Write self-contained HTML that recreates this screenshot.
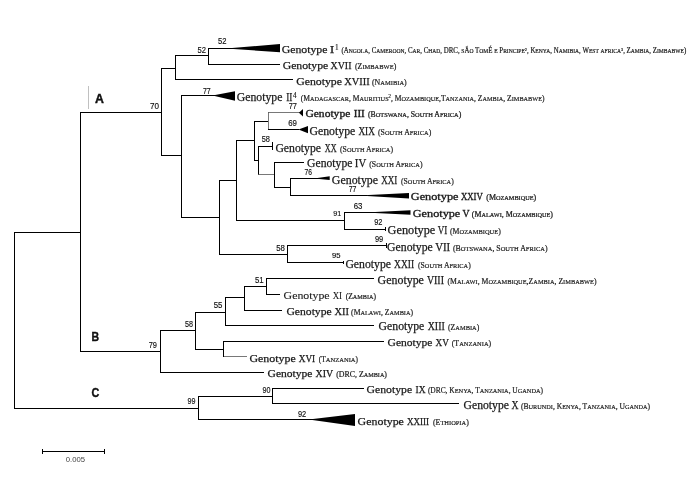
<!DOCTYPE html>
<html lang="en">
<head>
<meta charset="utf-8">
<title>Phylogenetic tree of genotypes</title>
<style>
html,body{margin:0;padding:0;background:#fff;}
body{width:700px;height:500px;overflow:hidden;}
svg{display:block;}
.g{font-family:"Liberation Serif", serif;font-size:11.2px;fill:#1a1a1a;stroke:#1a1a1a;stroke-width:0.25px;}
.p{font-family:"Liberation Serif", serif;font-size:8.5px;fill:#1a1a1a;font-variant:small-caps;stroke:#1a1a1a;stroke-width:0.2px;}
.l{font-size:1.2em;}
.b{font-family:"Liberation Sans", sans-serif;font-size:8.8px;fill:#111;stroke:#111;stroke-width:0.15px;}
.c{font-family:"Liberation Sans", sans-serif;font-size:12.6px;font-weight:bold;fill:#111;stroke:#111;stroke-width:0.4px;}
.s{font-family:"Liberation Sans", sans-serif;font-size:7.4px;fill:#444;}
</style>
</head>
<body>
<svg width="700" height="500" viewBox="0 0 700 500">
<rect x="0" y="0" width="700" height="500" fill="#fff"/>
<g fill="none" stroke-linecap="butt">
<line x1="14.5" y1="232" x2="14.5" y2="409" stroke="#000" stroke-width="1"/>
<line x1="14" y1="232.5" x2="80" y2="232.5" stroke="#000" stroke-width="1"/>
<line x1="14" y1="408.5" x2="198" y2="408.5" stroke="#000" stroke-width="1"/>
<line x1="80.5" y1="112" x2="80.5" y2="352" stroke="#000" stroke-width="1"/>
<line x1="80" y1="112.5" x2="161" y2="112.5" stroke="#000" stroke-width="1"/>
<line x1="80" y1="351.5" x2="160" y2="351.5" stroke="#000" stroke-width="1"/>
<line x1="161.5" y1="68" x2="161.5" y2="156" stroke="#000" stroke-width="1"/>
<line x1="161" y1="68.5" x2="176" y2="68.5" stroke="#000" stroke-width="1"/>
<line x1="175.5" y1="55" x2="175.5" y2="80" stroke="#000" stroke-width="1"/>
<line x1="176" y1="55.5" x2="208" y2="55.5" stroke="#000" stroke-width="1"/>
<line x1="208.5" y1="48" x2="208.5" y2="65" stroke="#000" stroke-width="1"/>
<line x1="208" y1="48.5" x2="234" y2="48.5" stroke="#000" stroke-width="1"/>
<line x1="208" y1="64.5" x2="280" y2="64.5" stroke="#000" stroke-width="1"/>
<line x1="176" y1="79.5" x2="293" y2="79.5" stroke="#000" stroke-width="1"/>
<line x1="161" y1="155.5" x2="182" y2="155.5" stroke="#000" stroke-width="1"/>
<line x1="181.5" y1="95" x2="181.5" y2="218" stroke="#000" stroke-width="1"/>
<line x1="182" y1="95.5" x2="215" y2="95.5" stroke="#000" stroke-width="1"/>
<line x1="182" y1="217.5" x2="220" y2="217.5" stroke="#000" stroke-width="1"/>
<line x1="219.5" y1="180" x2="219.5" y2="255" stroke="#000" stroke-width="1"/>
<line x1="220" y1="180.5" x2="236" y2="180.5" stroke="#000" stroke-width="1"/>
<line x1="236.5" y1="140" x2="236.5" y2="221" stroke="#000" stroke-width="1"/>
<line x1="236" y1="220.5" x2="344" y2="220.5" stroke="#000" stroke-width="1"/>
<line x1="344.5" y1="212" x2="344.5" y2="230" stroke="#000" stroke-width="1"/>
<line x1="344" y1="212.5" x2="376" y2="212.5" stroke="#000" stroke-width="1"/>
<line x1="344" y1="229.5" x2="386" y2="229.5" stroke="#000" stroke-width="1"/>
<line x1="385.5" y1="227" x2="385.5" y2="231" stroke="#000" stroke-width="1"/>
<line x1="236" y1="140.5" x2="254" y2="140.5" stroke="#000" stroke-width="1"/>
<line x1="254.5" y1="121" x2="254.5" y2="161" stroke="#000" stroke-width="1"/>
<line x1="254" y1="121.5" x2="268" y2="121.5" stroke="#000" stroke-width="1"/>
<line x1="268.5" y1="112" x2="268.5" y2="130" stroke="#555" stroke-width="0.8"/>
<line x1="268" y1="112.5" x2="300" y2="112.5" stroke="#555" stroke-width="0.8"/>
<line x1="268" y1="129.5" x2="299" y2="129.5" stroke="#000" stroke-width="1"/>
<line x1="254" y1="160.5" x2="258" y2="160.5" stroke="#000" stroke-width="1"/>
<line x1="258.5" y1="147" x2="258.5" y2="175" stroke="#000" stroke-width="1"/>
<line x1="258" y1="146.5" x2="272" y2="146.5" stroke="#000" stroke-width="1"/>
<line x1="272.5" y1="142" x2="272.5" y2="150" stroke="#000" stroke-width="1"/>
<line x1="258" y1="174.5" x2="274" y2="174.5" stroke="#555" stroke-width="0.8"/>
<line x1="274.5" y1="162" x2="274.5" y2="188" stroke="#000" stroke-width="1"/>
<line x1="274" y1="162.5" x2="304" y2="162.5" stroke="#000" stroke-width="1"/>
<line x1="274" y1="187.5" x2="290" y2="187.5" stroke="#000" stroke-width="1"/>
<line x1="290.5" y1="178" x2="290.5" y2="196" stroke="#000" stroke-width="1"/>
<line x1="290" y1="178.5" x2="319" y2="178.5" stroke="#000" stroke-width="1"/>
<line x1="290" y1="195.5" x2="367" y2="195.5" stroke="#000" stroke-width="1"/>
<line x1="220" y1="254.5" x2="288" y2="254.5" stroke="#000" stroke-width="1"/>
<line x1="287.5" y1="245" x2="287.5" y2="263" stroke="#000" stroke-width="1"/>
<line x1="288" y1="245.5" x2="386" y2="245.5" stroke="#000" stroke-width="1"/>
<line x1="386.5" y1="243" x2="386.5" y2="248" stroke="#000" stroke-width="1"/>
<line x1="288" y1="262.5" x2="343" y2="262.5" stroke="#000" stroke-width="1"/>
<line x1="343.5" y1="261" x2="343.5" y2="264" stroke="#000" stroke-width="1"/>
<line x1="160.5" y1="330" x2="160.5" y2="373" stroke="#000" stroke-width="1"/>
<line x1="160" y1="330.5" x2="196" y2="330.5" stroke="#000" stroke-width="1"/>
<line x1="195.5" y1="312" x2="195.5" y2="350" stroke="#000" stroke-width="1"/>
<line x1="196" y1="312.5" x2="226" y2="312.5" stroke="#000" stroke-width="1"/>
<line x1="225.5" y1="297" x2="225.5" y2="326" stroke="#000" stroke-width="1"/>
<line x1="226" y1="297.5" x2="244" y2="297.5" stroke="#000" stroke-width="1"/>
<line x1="244.5" y1="286" x2="244.5" y2="311" stroke="#000" stroke-width="1"/>
<line x1="244" y1="286.5" x2="266" y2="286.5" stroke="#000" stroke-width="1"/>
<line x1="266.5" y1="278" x2="266.5" y2="295" stroke="#000" stroke-width="1"/>
<line x1="266" y1="278.5" x2="374" y2="278.5" stroke="#000" stroke-width="1"/>
<line x1="266" y1="294.5" x2="280" y2="294.5" stroke="#000" stroke-width="1"/>
<line x1="244" y1="310.5" x2="282" y2="310.5" stroke="#000" stroke-width="1"/>
<line x1="226" y1="325.5" x2="374" y2="325.5" stroke="#000" stroke-width="1"/>
<line x1="196" y1="349.5" x2="224" y2="349.5" stroke="#000" stroke-width="1"/>
<line x1="223.5" y1="341" x2="223.5" y2="357" stroke="#000" stroke-width="1"/>
<line x1="224" y1="341.5" x2="384" y2="341.5" stroke="#000" stroke-width="1"/>
<line x1="224" y1="356.5" x2="247" y2="356.5" stroke="#555" stroke-width="0.8"/>
<line x1="160" y1="372.5" x2="264" y2="372.5" stroke="#000" stroke-width="1"/>
<line x1="198.5" y1="396" x2="198.5" y2="420" stroke="#000" stroke-width="1"/>
<line x1="198" y1="396.5" x2="272" y2="396.5" stroke="#000" stroke-width="1"/>
<line x1="272.5" y1="388" x2="272.5" y2="404" stroke="#000" stroke-width="1"/>
<line x1="272" y1="388.5" x2="364" y2="388.5" stroke="#000" stroke-width="1"/>
<line x1="272" y1="403.5" x2="459" y2="403.5" stroke="#000" stroke-width="1"/>
<line x1="198" y1="419.5" x2="313" y2="419.5" stroke="#000" stroke-width="1"/>
<line x1="88.5" y1="86" x2="88.5" y2="109" stroke="#b0b0b0" stroke-width="0.8"/>
<line x1="42" y1="451.5" x2="104" y2="451.5" stroke="#000" stroke-width="1"/>
<line x1="42.5" y1="449" x2="42.5" y2="454" stroke="#000" stroke-width="1"/>
<line x1="104.5" y1="449" x2="104.5" y2="454" stroke="#000" stroke-width="1"/>
</g>
<g fill="#000" stroke="none">
<polygon points="226,48.5 280,44 280,52.2"/>
<polygon points="212.5,95.5 235,91.2 235,100.8"/>
<polygon points="365,212.5 410.5,210.3 410.5,214.7"/>
<polygon points="298.9,112.7 303,108.9 303,116.4"/>
<polygon points="298.5,129.5 308,126 308,133.2"/>
<polygon points="314,178.5 329.7,176.2 329.7,180.1"/>
<polygon points="358.75,195.5 409,193 409,198.6"/>
<polygon points="308.75,419.5 355,413.9 355,426"/>
</g>
<g>
<text class="g" style="font-size:11.15px" x="281.70" y="52.5" textLength="45.80" lengthAdjust="spacingAndGlyphs">Genotype</text>
<text class="g" style="font-size:11.15px" x="329.80" y="52.5" textLength="4.60" lengthAdjust="spacingAndGlyphs">I</text>
<text class="g" x="335.10" y="50.00" style="font-size:7.2px;stroke-width:0.15px">1</text>
<text class="p" x="341.5" y="52.5" style="font-size:7.4px" textLength="344.75" lengthAdjust="spacingAndGlyphs">(A<tspan class="l">ngola</tspan>, C<tspan class="l">ameroon</tspan>, C<tspan class="l">ar</tspan>, C<tspan class="l">had</tspan>, DRC, <tspan class="l">s</tspan>Ã<tspan class="l">o</tspan> T<tspan class="l">om</tspan>É <tspan class="l">e</tspan> P<tspan class="l">rincipe</tspan><tspan style="font-size:4.6px;baseline-shift:2.5px">2</tspan>, K<tspan class="l">enya</tspan>, N<tspan class="l">amibia</tspan>, W<tspan class="l">est</tspan> <tspan class="l">africa</tspan><tspan style="font-size:4.6px;baseline-shift:2.5px">3</tspan>, Z<tspan class="l">ambia</tspan>, Z<tspan class="l">imbabwe</tspan>)</text>
<text class="g" style="font-size:11.15px" x="282.70" y="68.5" textLength="45.60" lengthAdjust="spacingAndGlyphs">Genotype</text>
<text class="g" style="font-size:11.15px" x="330.60" y="68.5" textLength="20.85" lengthAdjust="spacingAndGlyphs">XVII</text>
<text class="p" x="355" y="68.5" textLength="41.25" lengthAdjust="spacingAndGlyphs">(Z<tspan class="l">imbabwe</tspan>)</text>
<text class="g" style="font-size:11.15px" x="296.20" y="84.5" textLength="45.80" lengthAdjust="spacingAndGlyphs">Genotype</text>
<text class="g" style="font-size:11.15px" x="344.30" y="84.5" textLength="25.40" lengthAdjust="spacingAndGlyphs">XVIII</text>
<text class="p" x="372" y="84.5" textLength="34.75" lengthAdjust="spacingAndGlyphs">(N<tspan class="l">amibia</tspan>)</text>
<text class="g" style="font-size:11.91px" x="236.80" y="100.7" textLength="45.60" lengthAdjust="spacingAndGlyphs">Genotype</text>
<text class="g" style="font-size:11.91px" x="286.20" y="100.7" textLength="6.20" lengthAdjust="spacingAndGlyphs">II</text>
<text class="g" x="293.10" y="98.20" style="font-size:7.2px;stroke-width:0.15px">4</text>
<text class="p" x="300.75" y="100.7" textLength="243.75" lengthAdjust="spacingAndGlyphs">(M<tspan class="l">adagascar</tspan>, M<tspan class="l">auritius</tspan><tspan style="font-size:5.3px;baseline-shift:2.9px">2</tspan>, M<tspan class="l">ozambique</tspan>,T<tspan class="l">anzania</tspan>, Z<tspan class="l">ambia</tspan>, Z<tspan class="l">imbabwe</tspan>)</text>
<text class="g" style="font-size:9.77px;stroke-width:0.33px" x="305.40" y="116.7" textLength="44.90" lengthAdjust="spacingAndGlyphs">Genotype</text>
<text class="g" style="font-size:9.77px;stroke-width:0.33px" x="353.80" y="116.7" textLength="11.00" lengthAdjust="spacingAndGlyphs">III</text>
<text class="p" x="368" y="116.7" style="font-size:7.3px;stroke-width:0.24px" textLength="93.25" lengthAdjust="spacingAndGlyphs">(B<tspan class="l">otswana</tspan>, S<tspan class="l">outh</tspan> A<tspan class="l">frica</tspan>)</text>
<text class="g" style="font-size:11.6px" x="309.40" y="134.7" textLength="45.90" lengthAdjust="spacingAndGlyphs">Genotype</text>
<text class="g" style="font-size:11.6px" x="358.40" y="134.7" textLength="16.40" lengthAdjust="spacingAndGlyphs">XIX</text>
<text class="p" x="378" y="134.7" textLength="53.25" lengthAdjust="spacingAndGlyphs">(S<tspan class="l">outh</tspan> A<tspan class="l">frica</tspan>)</text>
<text class="g" style="font-size:12.21px" x="275.40" y="151.6" textLength="45.60" lengthAdjust="spacingAndGlyphs">Genotype</text>
<text class="g" style="font-size:12.21px" x="324.80" y="151.6" textLength="11.80" lengthAdjust="spacingAndGlyphs">XX</text>
<text class="p" x="340" y="151.6" textLength="53.00" lengthAdjust="spacingAndGlyphs">(S<tspan class="l">outh</tspan> A<tspan class="l">frica</tspan>)</text>
<text class="g" style="font-size:11.91px" x="307.10" y="166.9" textLength="45.30" lengthAdjust="spacingAndGlyphs">Genotype</text>
<text class="g" style="font-size:11.91px" x="354.80" y="166.9" textLength="11.40" lengthAdjust="spacingAndGlyphs">IV</text>
<text class="p" x="369.25" y="166.9" textLength="53.25" lengthAdjust="spacingAndGlyphs">(S<tspan class="l">outh</tspan> A<tspan class="l">frica</tspan>)</text>
<text class="g" style="font-size:12.21px" x="331.80" y="183.7" textLength="46.30" lengthAdjust="spacingAndGlyphs">Genotype</text>
<text class="g" style="font-size:12.21px" x="381.20" y="183.7" textLength="16.10" lengthAdjust="spacingAndGlyphs">XXI</text>
<text class="p" x="401" y="183.7" textLength="52.75" lengthAdjust="spacingAndGlyphs">(S<tspan class="l">outh</tspan> A<tspan class="l">frica</tspan>)</text>
<text class="g" style="font-size:10.23px;stroke-width:0.33px" x="410.80" y="199.9" textLength="47.70" lengthAdjust="spacingAndGlyphs">Genotype</text>
<text class="g" style="font-size:10.23px;stroke-width:0.33px" x="460.90" y="199.9" textLength="21.80" lengthAdjust="spacingAndGlyphs">XXIV</text>
<text class="p" x="486.25" y="199.9" style="font-size:7.6px;stroke-width:0.24px" textLength="50.00" lengthAdjust="spacingAndGlyphs">(M<tspan class="l">ozambique</tspan>)</text>
<text class="g" style="font-size:10.23px;stroke-width:0.33px" x="412.80" y="217" textLength="47.50" lengthAdjust="spacingAndGlyphs">Genotype</text>
<text class="g" style="font-size:10.23px;stroke-width:0.33px" x="462.40" y="217" textLength="7.10" lengthAdjust="spacingAndGlyphs">V</text>
<text class="p" x="471.75" y="217" style="font-size:7.6px;stroke-width:0.24px" textLength="81.25" lengthAdjust="spacingAndGlyphs">(M<tspan class="l">alawi</tspan>, M<tspan class="l">ozambique</tspan>)</text>
<text class="g" style="font-size:12.06px" x="387.60" y="233.9" textLength="47.70" lengthAdjust="spacingAndGlyphs">Genotype</text>
<text class="g" style="font-size:12.06px" x="437.70" y="233.9" textLength="9.60" lengthAdjust="spacingAndGlyphs">VI</text>
<text class="p" x="450" y="233.9" textLength="50.75" lengthAdjust="spacingAndGlyphs">(M<tspan class="l">ozambique</tspan>)</text>
<text class="g" style="font-size:12.06px" x="387.10" y="251" textLength="45.70" lengthAdjust="spacingAndGlyphs">Genotype</text>
<text class="g" style="font-size:12.06px" x="435.20" y="251" textLength="15.00" lengthAdjust="spacingAndGlyphs">VII</text>
<text class="p" x="453" y="251" textLength="94.50" lengthAdjust="spacingAndGlyphs">(B<tspan class="l">otswana</tspan>, S<tspan class="l">outh</tspan> A<tspan class="l">frica</tspan>)</text>
<text class="g" style="font-size:12.06px" x="345.40" y="267.9" textLength="45.60" lengthAdjust="spacingAndGlyphs">Genotype</text>
<text class="g" style="font-size:12.06px" x="394.10" y="267.9" textLength="20.10" lengthAdjust="spacingAndGlyphs">XXII</text>
<text class="p" x="418" y="267.9" textLength="52.75" lengthAdjust="spacingAndGlyphs">(S<tspan class="l">outh</tspan> A<tspan class="l">frica</tspan>)</text>
<text class="g" style="font-size:11.6px" x="377.60" y="283.7" textLength="46.30" lengthAdjust="spacingAndGlyphs">Genotype</text>
<text class="g" style="font-size:11.6px" x="426.90" y="283.7" textLength="17.05" lengthAdjust="spacingAndGlyphs">VIII</text>
<text class="p" x="447.5" y="283.7" textLength="149.00" lengthAdjust="spacingAndGlyphs">(M<tspan class="l">alawi</tspan>, M<tspan class="l">ozambique</tspan>,Z<tspan class="l">ambia</tspan>, Z<tspan class="l">imbabwe</tspan>)</text>
<text class="g" style="font-size:9.77px;stroke-width:0.1px" x="283.60" y="299.3" textLength="46.00" lengthAdjust="spacingAndGlyphs">Genotype</text>
<text class="g" style="font-size:9.77px;stroke-width:0.1px" x="332.70" y="299.3" textLength="9.40" lengthAdjust="spacingAndGlyphs">XI</text>
<text class="p" x="345.7" y="299.3" style="font-size:7.3px" textLength="30.30" lengthAdjust="spacingAndGlyphs">(Z<tspan class="l">ambia</tspan>)</text>
<text class="g" style="font-size:11.3px" x="286.40" y="314.6" textLength="45.30" lengthAdjust="spacingAndGlyphs">Genotype</text>
<text class="g" style="font-size:11.3px" x="334.50" y="314.6" textLength="14.45" lengthAdjust="spacingAndGlyphs">XII</text>
<text class="p" x="351.1" y="314.6" textLength="62.00" lengthAdjust="spacingAndGlyphs">(M<tspan class="l">alawi</tspan>, Z<tspan class="l">ambia</tspan>)</text>
<text class="g" style="font-size:11.6px" x="378.60" y="330" textLength="45.70" lengthAdjust="spacingAndGlyphs">Genotype</text>
<text class="g" style="font-size:11.6px" x="427.70" y="330" textLength="17.10" lengthAdjust="spacingAndGlyphs">XIII</text>
<text class="p" x="448" y="330" textLength="31.25" lengthAdjust="spacingAndGlyphs">(Z<tspan class="l">ambia</tspan>)</text>
<text class="g" style="font-size:11.3px" x="387.60" y="346" textLength="44.90" lengthAdjust="spacingAndGlyphs">Genotype</text>
<text class="g" style="font-size:11.3px" x="435.50" y="346" textLength="13.30" lengthAdjust="spacingAndGlyphs">XV</text>
<text class="p" x="451.75" y="346" textLength="39.50" lengthAdjust="spacingAndGlyphs">(T<tspan class="l">anzania</tspan>)</text>
<text class="g" style="font-size:10.53px" x="249.40" y="361.9" textLength="46.30" lengthAdjust="spacingAndGlyphs">Genotype</text>
<text class="g" style="font-size:10.53px" x="298.70" y="361.9" textLength="16.50" lengthAdjust="spacingAndGlyphs">XVI</text>
<text class="p" x="318.8" y="361.9" style="font-size:7.8px" textLength="39.20" lengthAdjust="spacingAndGlyphs">(T<tspan class="l">anzania</tspan>)</text>
<text class="g" style="font-size:10.23px" x="267.60" y="376.7" textLength="44.90" lengthAdjust="spacingAndGlyphs">Genotype</text>
<text class="g" style="font-size:10.23px" x="315.50" y="376.7" textLength="17.60" lengthAdjust="spacingAndGlyphs">XIV</text>
<text class="p" x="336.25" y="376.7" style="font-size:7.6px" textLength="50.75" lengthAdjust="spacingAndGlyphs">(DRC, Z<tspan class="l">ambia</tspan>)</text>
<text class="g" style="font-size:11.3px" x="366.60" y="392.7" textLength="45.50" lengthAdjust="spacingAndGlyphs">Genotype</text>
<text class="g" style="font-size:11.3px" x="415.50" y="392.7" textLength="10.00" lengthAdjust="spacingAndGlyphs">IX</text>
<text class="p" x="427.9" y="392.7" style="font-size:8.2px" textLength="115.20" lengthAdjust="spacingAndGlyphs">(DRC, K<tspan class="l">enya</tspan>, T<tspan class="l">anzania</tspan>, U<tspan class="l">ganda</tspan>)</text>
<text class="g" style="font-size:11.6px" x="463.60" y="408.6" textLength="45.30" lengthAdjust="spacingAndGlyphs">Genotype</text>
<text class="g" style="font-size:11.6px" x="511.50" y="408.6" textLength="7.00" lengthAdjust="spacingAndGlyphs">X</text>
<text class="p" x="521" y="408.6" textLength="129.10" lengthAdjust="spacingAndGlyphs">(B<tspan class="l">urundi</tspan>, K<tspan class="l">enya</tspan>, T<tspan class="l">anzania</tspan>, U<tspan class="l">ganda</tspan>)</text>
<text class="g" style="font-size:11.3px" x="357.60" y="424.9" textLength="46.30" lengthAdjust="spacingAndGlyphs">Genotype</text>
<text class="g" style="font-size:11.3px" x="406.90" y="424.9" textLength="22.20" lengthAdjust="spacingAndGlyphs">XXIII</text>
<text class="p" x="433" y="424.9" textLength="35.80" lengthAdjust="spacingAndGlyphs">(E<tspan class="l">thiopia</tspan>)</text>
</g>
<g>
<text class="b" x="150" y="109" textLength="9.00" lengthAdjust="spacingAndGlyphs">70</text>
<text class="b" x="197.5" y="53" textLength="8.50" lengthAdjust="spacingAndGlyphs">52</text>
<text class="b" x="218" y="43.75" textLength="8.50" lengthAdjust="spacingAndGlyphs">52</text>
<text class="b" x="203" y="93.75" textLength="7.75" lengthAdjust="spacingAndGlyphs">77</text>
<text class="b" x="288.75" y="109.25" textLength="8.25" lengthAdjust="spacingAndGlyphs">77</text>
<text class="b" x="288.25" y="126.25" textLength="8.75" lengthAdjust="spacingAndGlyphs">69</text>
<text class="b" x="261.75" y="142" textLength="8.25" lengthAdjust="spacingAndGlyphs">58</text>
<text class="b" x="304.5" y="174.5" textLength="7.50" lengthAdjust="spacingAndGlyphs">76</text>
<text class="b" x="348.75" y="192" textLength="7.75" lengthAdjust="spacingAndGlyphs">77</text>
<text class="b" x="353.75" y="208.75" textLength="8.75" lengthAdjust="spacingAndGlyphs">63</text>
<text class="b" style="font-size:7.4px" x="333.25" y="215.8" textLength="8.00" lengthAdjust="spacingAndGlyphs">91</text>
<text class="b" x="374.25" y="225" textLength="8.25" lengthAdjust="spacingAndGlyphs">92</text>
<text class="b" x="375" y="241.75" textLength="8.25" lengthAdjust="spacingAndGlyphs">99</text>
<text class="b" x="276.25" y="250.75" textLength="8.75" lengthAdjust="spacingAndGlyphs">58</text>
<text class="b" style="font-size:6.8px" x="332" y="258" textLength="8.50" lengthAdjust="spacingAndGlyphs">95</text>
<text class="b" x="255" y="283.25" textLength="8.75" lengthAdjust="spacingAndGlyphs">51</text>
<text class="b" x="213.75" y="308" textLength="8.75" lengthAdjust="spacingAndGlyphs">55</text>
<text class="b" x="185" y="327" textLength="8.00" lengthAdjust="spacingAndGlyphs">58</text>
<text class="b" x="148.75" y="348" textLength="8.25" lengthAdjust="spacingAndGlyphs">79</text>
<text class="b" x="187.5" y="403.75" textLength="8.00" lengthAdjust="spacingAndGlyphs">99</text>
<text class="b" x="262.5" y="393" textLength="8.00" lengthAdjust="spacingAndGlyphs">90</text>
<text class="b" x="298" y="416.75" textLength="8.25" lengthAdjust="spacingAndGlyphs">92</text>
</g>
<text class="c" x="94.9" y="103" textLength="8.9" lengthAdjust="spacingAndGlyphs">A</text>
<text class="c" x="91.6" y="340.9" textLength="7.6" lengthAdjust="spacingAndGlyphs">B</text>
<text class="c" x="91.4" y="397" textLength="7.8" lengthAdjust="spacingAndGlyphs">C</text>
<text class="s" x="65.75" y="462" textLength="19.25" lengthAdjust="spacingAndGlyphs">0.005</text>
</svg>
</body>
</html>
